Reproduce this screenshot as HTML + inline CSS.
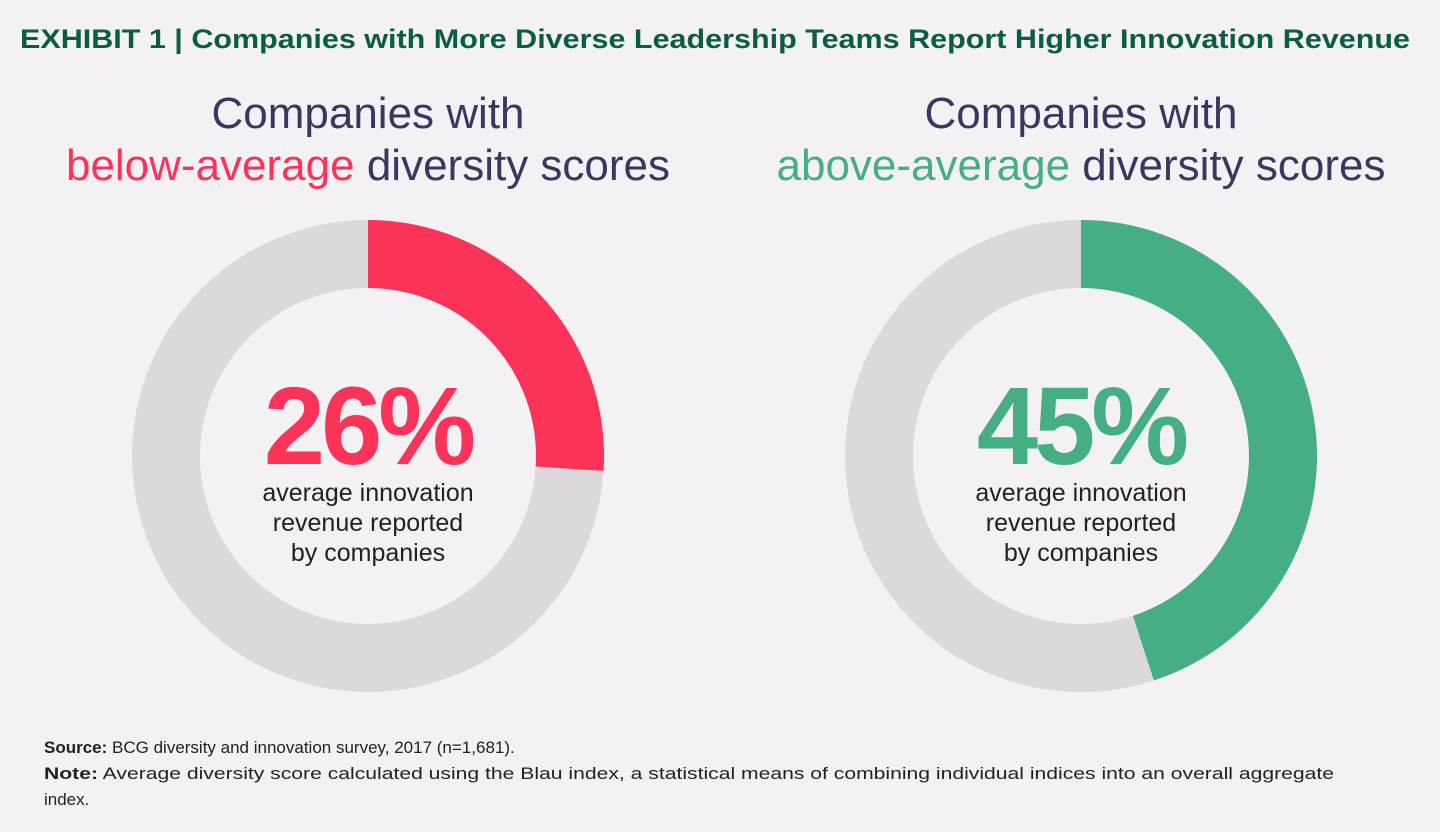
<!DOCTYPE html>
<html><head><meta charset="utf-8"><style>
html,body{margin:0;padding:0;background:#f3f1f4;}
svg{display:block;font-family:"Liberation Sans",sans-serif;}
</style></head><body>
<svg id="chart" width="1440" height="832" viewBox="0 0 1440 832">
<rect width="1440" height="832" fill="#f3f1f4"/>
<text x="20" y="48" font-size="27" font-weight="bold" fill="#0b5c45" textLength="1390" lengthAdjust="spacingAndGlyphs">EXHIBIT 1 | Companies with More Diverse Leadership Teams Report Higher Innovation Revenue</text>
<g id="donuts"></g>
<text x="44" y="753" font-size="17" fill="#222"><tspan font-weight="bold">Source:</tspan> BCG diversity and innovation survey, 2017 (n=1,681).</text>
<text x="44" y="779" font-size="17" fill="#222" textLength="1290" lengthAdjust="spacingAndGlyphs"><tspan font-weight="bold">Note:</tspan> Average diversity score calculated using the Blau index, a statistical means of combining individual indices into an overall aggregate</text>
<text x="44" y="805" font-size="17" fill="#222">index.</text>
</svg>
<script>
const groups = ["below-average", "above-average"];
const values = [26, 45];
const colors = ["#fc3359", "#45ae82"];
const centersX = [368, 1081];
const cy = 456, R = 236, r = 168;
const NS = "http://www.w3.org/2000/svg";
const g = document.getElementById("donuts");
function pt(rad, frac){const a = frac*2*Math.PI - Math.PI/2; return [rad*Math.cos(a), rad*Math.sin(a)];}
function mk(tag, attrs){const e=document.createElementNS(NS,tag);for(const k in attrs)e.setAttribute(k,attrs[k]);return e;}
groups.forEach((grp,i)=>{
  const cx = centersX[i], v = values[i]/100;
  const bg = mk("circle",{cx:cx,cy:cy,r:(R+r)/2,fill:"none",stroke:"#dcd8db","stroke-width":R-r});
  
  
  g.appendChild(bg);
  const [x1,y1]=pt(R,0),[x2,y2]=pt(R,v),[x3,y3]=pt(r,v),[x4,y4]=pt(r,0);
  const large = v>0.5?1:0;
  const d=`M${cx+x1},${cy+y1} A${R},${R} 0 ${large} 1 ${cx+x2},${cy+y2} L${cx+x3},${cy+y3} A${r},${r} 0 ${large} 0 ${cx+x4},${cy+y4} Z`;
  const arc = mk("path",{d:d,fill:colors[i]});
  
  
  g.appendChild(arc);
  const h1 = mk("text",{x:cx,y:128,"font-size":44,"text-anchor":"middle",fill:"#3c3560"});
  h1.textContent="Companies with";
  
  
  g.appendChild(h1);
  const h2 = mk("text",{x:cx,y:180,"font-size":44,"text-anchor":"middle",fill:"#3c3560"});
  const ts = mk("tspan",{fill:colors[i]}); ts.textContent=grp;
  h2.appendChild(ts); h2.appendChild(document.createTextNode(" diversity scores"));
  
  
  g.appendChild(h2);
  const big = mk("text",{x:cx,y:464,"font-size":110,"font-weight":"bold","text-anchor":"middle",fill:colors[i],"letter-spacing":"-4"});
  big.textContent=values[i]+"%";
  
  
  g.appendChild(big);
  ["average innovation","revenue reported","by companies"].forEach((t,k)=>{
    const s = mk("text",{x:cx,y:501+k*30,"font-size":25,"text-anchor":"middle",fill:"#222"});
    s.textContent=t;
    
    
    g.appendChild(s);
  });
});
</script>
</body></html>
